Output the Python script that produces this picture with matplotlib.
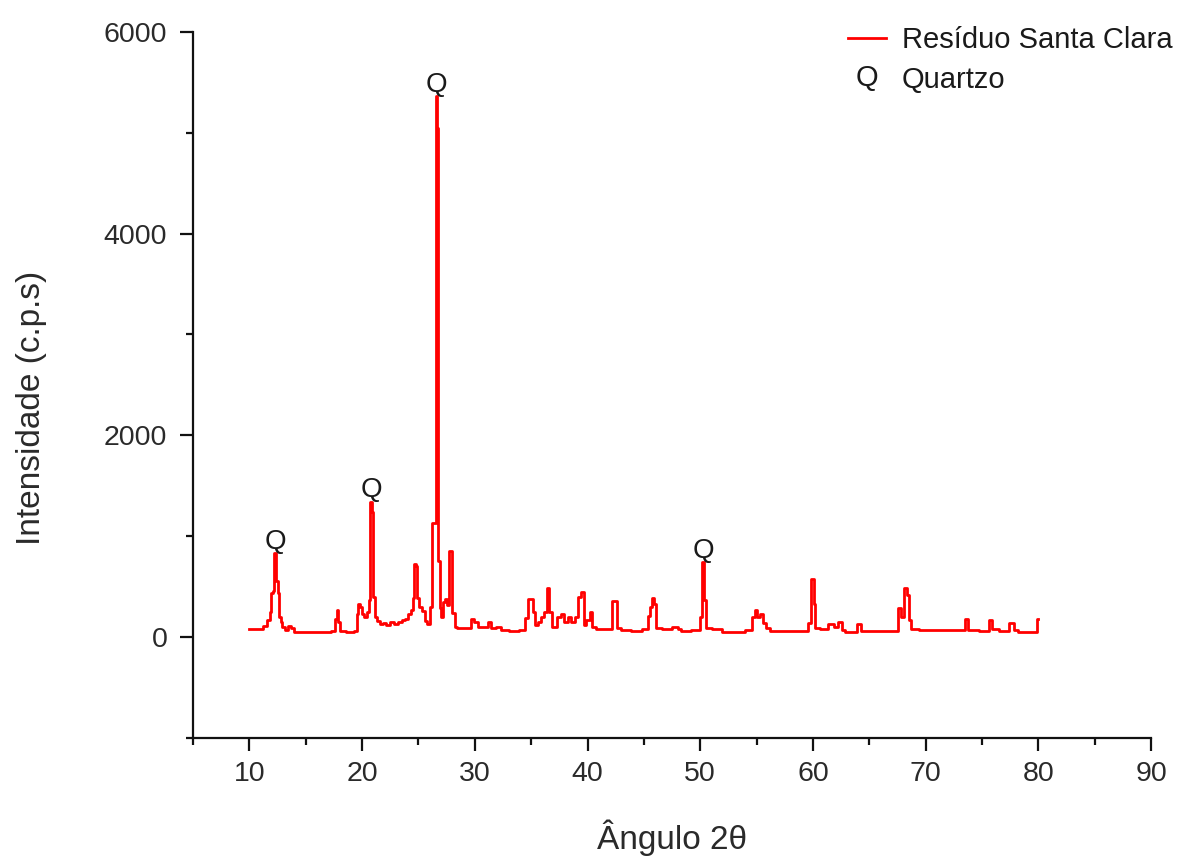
import matplotlib
matplotlib.use("Agg")
import matplotlib.pyplot as plt
from matplotlib.ticker import MultipleLocator
from matplotlib.legend_handler import HandlerBase
from matplotlib.lines import Line2D
from matplotlib.text import Text

plt.rcParams['font.family'] = ['Liberation Sans', 'DejaVu Sans']

# XRD pattern
two_theta = [10.0, 10.5, 11.0, 11.5, 11.7, 11.9, 12.0, 12.15, 12.25, 12.35, 12.45, 12.6, 12.7, 12.85, 13.0,
             13.3, 13.6, 13.8, 14.2, 15.0, 16.0, 17.0, 17.5, 17.7, 17.8, 17.9, 18.1, 19.0, 19.5, 19.6,
             19.75, 19.9, 20.1, 20.3, 20.5, 20.65, 20.8, 20.95, 21.05, 21.2, 21.4, 21.7, 22.0, 22.3, 22.7,
             23.0, 23.4, 23.7, 24.0, 24.2, 24.4, 24.55, 24.7, 24.85, 24.95, 25.2, 25.4, 25.7, 25.9, 26.1,
             26.3, 26.5, 26.6, 26.7, 26.8, 26.95, 27.1, 27.3, 27.45, 27.6, 27.75, 27.9, 28.1, 28.3, 28.6,
             29.0, 29.5, 29.8, 30.0, 30.5, 31.0, 31.3, 31.6, 32.1, 32.5, 33.5, 34.3, 34.6, 34.9, 35.05,
             35.2, 35.45, 35.7, 36.0, 36.3, 36.55, 36.65, 37.1, 37.5, 37.8, 38.1, 38.4, 38.7, 39.0, 39.3,
             39.55, 39.75, 40.0, 40.35, 40.5, 41.0, 42.0, 42.3, 42.55, 42.75, 43.2, 44.5, 45.2, 45.45, 45.65,
             45.8, 45.95, 46.2, 47.0, 47.9, 48.1, 48.5, 49.8, 50.1, 50.25, 50.4, 50.6, 51.5, 52.3, 53.5,
             54.4, 54.7, 54.95, 55.15, 55.4, 55.7, 56.0, 56.3, 57.5, 59.4, 59.7, 60.0, 60.15, 60.3, 61.0,
             61.65, 62.0, 62.4, 62.7, 63.0, 63.8, 64.1, 64.35, 65.5, 67.4, 67.7, 67.95, 68.2, 68.4, 68.6,
             68.85, 70.0, 73.4, 73.65, 73.9, 75.5, 75.75, 76.0, 77.0, 77.7, 77.9, 78.4, 79.7, 80.0]
intensidade = [75, 78, 80, 110, 170, 250, 440, 460, 830, 830, 560, 440, 200, 150, 100,
               70, 110, 90, 50, 45, 45, 45, 60, 180, 270, 150, 55, 50, 60, 230,
               330, 300, 230, 200, 250, 370, 1340, 1240, 400, 200, 160, 130, 140, 120, 150,
               130, 150, 170, 180, 230, 270, 390, 720, 700, 390, 300, 260, 160, 130, 300,
               1130, 1130, 5360, 5050, 750, 290, 200, 350, 380, 320, 850, 850, 240, 100, 90,
               90, 90, 175, 150, 100, 100, 150, 90, 100, 65, 60, 65, 190, 380, 380,
               250, 120, 150, 200, 250, 490, 250, 100, 200, 230, 150, 200, 150, 200, 400,
               450, 120, 170, 250, 100, 75, 75, 360, 360, 85, 65, 60, 80, 210, 300,
               385, 330, 85, 75, 100, 75, 60, 65, 200, 740, 370, 85, 75, 45, 50,
               65, 200, 270, 200, 230, 140, 85, 60, 55, 55, 140, 580, 330, 85, 75,
               130, 100, 150, 70, 50, 50, 130, 55, 55, 55, 285, 200, 490, 420, 170,
               75, 70, 70, 175, 70, 60, 170, 80, 55, 135, 70, 45, 45, 180]

# quartz peaks marked with Q
q_theta = [12.35, 20.8, 26.6, 50.25]
q_int = [830, 1340, 5360, 740]


class QHandler(HandlerBase):
    def create_artists(self, legend, orig_handle, xdescent, ydescent,
                       width, height, fontsize, trans):
        t = Text(width / 2 - xdescent, height / 2 - ydescent, 'Q', ha='center', va='center',
                 fontsize=fontsize, color='#1a1a1a', transform=trans)
        return [t]


fig = plt.figure(figsize=(11.77, 8.61), dpi=100)
ax = fig.add_axes([0.164, 0.143, 0.814, 0.820])

line, = ax.plot(two_theta, intensidade, color='#ff0000', lw=2.0, drawstyle='steps-mid')

for x, y in zip(q_theta, q_int):
    ax.annotate('Q', (x, y), xytext=(0, -1), textcoords='offset points',
                ha='center', va='bottom', fontsize=20, color='#1a1a1a')

ax.set_xlim(5, 90)
ax.set_ylim(-1000, 6000)
ax.xaxis.set_major_locator(MultipleLocator(10))
ax.xaxis.set_minor_locator(MultipleLocator(5))
ax.yaxis.set_major_locator(MultipleLocator(2000))
ax.yaxis.set_minor_locator(MultipleLocator(1000))

for s in ['top', 'right']:
    ax.spines[s].set_visible(False)
for s in ['left', 'bottom']:
    ax.spines[s].set_linewidth(1.6)
    ax.spines[s].set_color('#111111')

ax.tick_params(which='major', length=9.5, width=1.6, labelsize=20.5, colors='#111111', labelcolor='#2a2a2a')
ax.tick_params(which='minor', length=5, width=1.6, colors='#111111')
ax.tick_params(axis='y', which='major', pad=9)
ax.tick_params(axis='x', which='major', pad=7)

ax.set_xlabel('Ângulo 2θ', fontsize=24, color='#2a2a2a')
ax.set_ylabel('Intensidade (c.p.s)', fontsize=24, color='#2a2a2a')
ax.xaxis.set_label_coords(0.5, -0.115)
ax.yaxis.set_label_coords(-0.152, 0.467)

q_handle = Line2D([], [], linestyle='none')
ax.legend([line, q_handle], ['Resíduo Santa Clara', 'Quartzo'],
          handler_map={q_handle: QHandler()},
          loc='upper left', bbox_to_anchor=(0.7205, 0.970), bbox_transform=fig.transFigure,
          frameon=False, fontsize=21, borderpad=0, borderaxespad=0,
          handlelength=1.3, handletextpad=0.55, labelspacing=0.42, labelcolor='#1a1a1a')

fig.savefig('out.png', dpi=100)
